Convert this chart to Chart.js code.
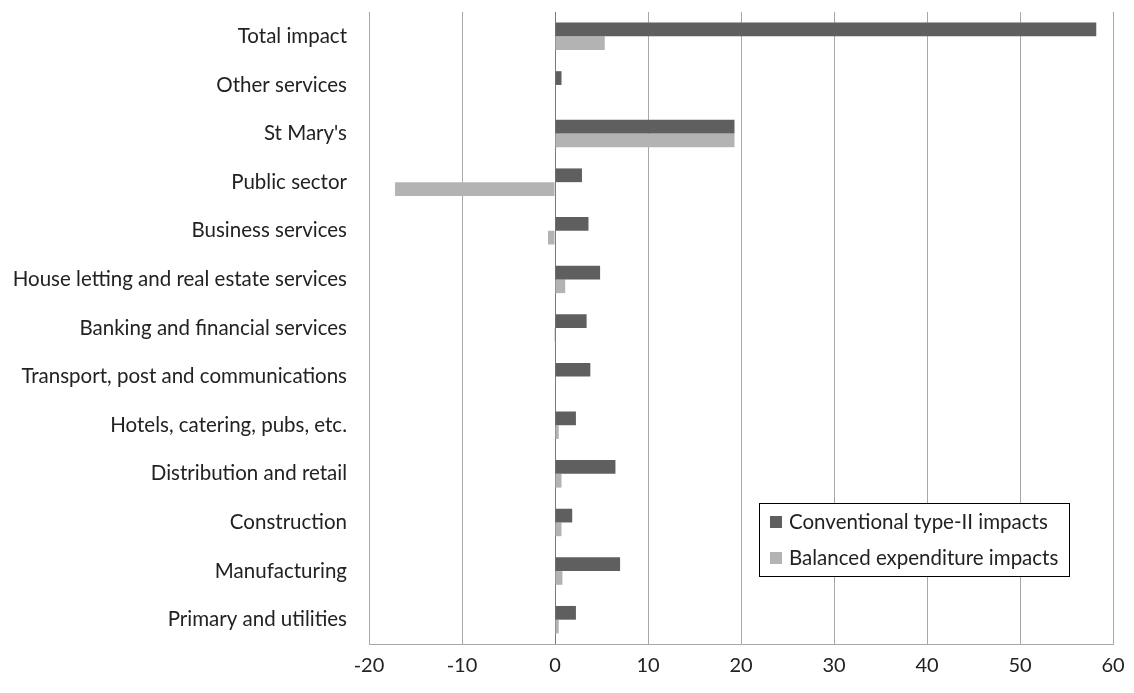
<!DOCTYPE html>
<html>
<head>
<meta charset="utf-8">
<script src="https://cdn.jsdelivr.net/npm/chart.js@4.4.0/dist/chart.umd.min.js"></script>
<style>
html,body{margin:0;padding:0;background:#fff;}
#wrap{width:1134px;height:693px;}
</style>
</head>
<body>
<div id="wrap"><canvas id="c" width="1134" height="693"></canvas></div>
<script>
const categories = [
  "Total impact",
  "Other services",
  "St Mary's",
  "Public sector",
  "Business services",
  "House letting and real estate services",
  "Banking and financial services",
  "Transport, post and communications",
  "Hotels, catering, pubs, etc.",
  "Distribution and retail",
  "Construction",
  "Manufacturing",
  "Primary and utilities"
];
const conventionalTypeII = [58.2, 0.7, 19.3, 2.9, 3.6, 4.85, 3.4, 3.8, 2.25, 6.5, 1.85, 7.0, 2.25];
const balancedExpenditure = [5.35, 0.05, 19.3, -17.2, -0.75, 1.1, -0.1, 0.0, 0.4, 0.7, 0.7, 0.8, 0.4];
const seriesNames = ["Conventional type-II impacts", "Balanced expenditure impacts"];
const seriesColors = ["#5f5f5f", "#b3b3b3"];
const xTicks = [-20, -10, 0, 10, 20, 30, 40, 50, 60];

const FONT = "Lato";

const legendBox = {
  id: 'legendBox',
  afterDraw(chart) {
    const ctx = chart.ctx;
    const x0 = 759, y0 = 503, w = 310, h = 73;
    ctx.save();
    ctx.fillStyle = '#fff';
    ctx.fillRect(x0, y0, w, h);
    ctx.strokeStyle = '#000';
    ctx.lineWidth = 1;
    ctx.strokeRect(x0 + 0.5, y0 + 0.5, w, h);
    ctx.font = '20.5px ' + FONT;
    ctx.textBaseline = 'middle';
    chart.data.datasets.forEach((ds, i) => {
      const cy = y0 + 19 + i * 36;
      ctx.fillStyle = ds.backgroundColor;
      ctx.fillRect(x0 + 11, cy - 6, 12, 12);
      ctx.fillStyle = '#222';
      ctx.fillText(ds.label, x0 + 30, cy);
    });
    ctx.restore();
  }
};

new Chart(document.getElementById('c'), {
  type: 'bar',
  data: {
    labels: categories,
    datasets: [
      { label: seriesNames[0], data: conventionalTypeII, backgroundColor: seriesColors[0],
        categoryPercentage: 0.565, barPercentage: 1.0 },
      { label: seriesNames[1], data: balancedExpenditure, backgroundColor: seriesColors[1],
        categoryPercentage: 0.565, barPercentage: 1.0 }
    ]
  },
  options: {
    indexAxis: 'y',
    responsive: false,
    animation: false,
    devicePixelRatio: 1,
    layout: { padding: { left: 0, right: 21, top: 12, bottom: 0 } },
    plugins: { legend: { display: false }, tooltip: { enabled: false } },
    scales: {
      x: {
        min: xTicks[0], max: xTicks[xTicks.length - 1],
        afterBuildTicks(scale) { scale.ticks = xTicks.map(v => ({ value: v })); },
        afterFit(scale) { scale.height = 49; scale.paddingLeft = 0; scale.paddingRight = 0; },
        grid: {
          color: ctx => ctx.tick && ctx.tick.value === 0 ? '#7a7a7a' : '#a8a8a8',
          lineWidth: 1,
          drawTicks: false
        },
        border: { display: true, color: '#a8a8a8' },
        ticks: { color: '#222', font: { family: FONT, size: 20 }, padding: 10 }
      },
      y: {
        afterFit(scale) { scale.width = 369; scale.paddingTop = 0; scale.paddingBottom = 0; },
        grid: { display: false, drawTicks: false },
        border: { display: false },
        ticks: { color: '#222', font: { family: FONT, size: 20.5 }, padding: 22, autoSkip: false }
      }
    }
  },
  plugins: [legendBox]
});
</script>
</body>
</html>
